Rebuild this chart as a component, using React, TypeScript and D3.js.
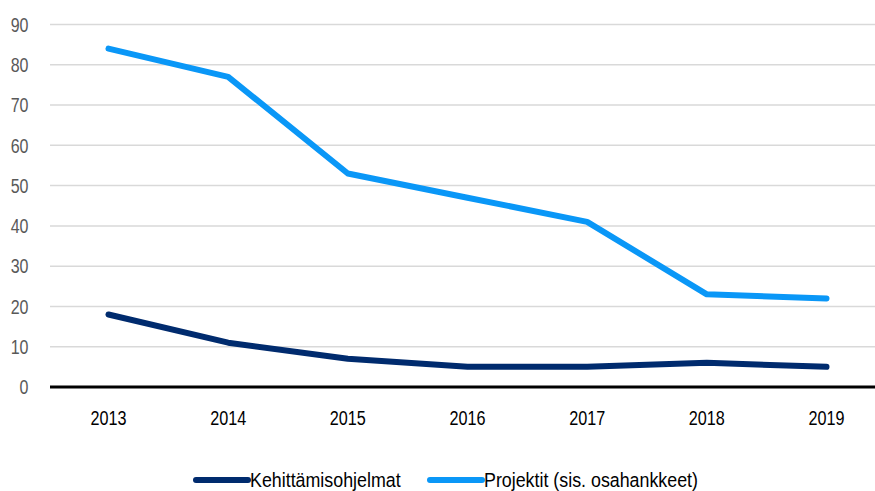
import React from "react";
import * as d3 from "d3";

const years = ["2013", "2014", "2015", "2016", "2017", "2018", "2019"];
const kehittamis = [18, 11, 7, 5, 5, 6, 5];
const projektit = [84, 77, 53, 47, 41, 23, 22];
const yTicks = [0, 10, 20, 30, 40, 50, 60, 70, 80, 90];
const seriesNames = ["Kehittämisohjelmat", "Projektit (sis. osahankkeet)"];
const seriesColors = ["#002b6e", "#0a97f7"];

const W = 875;
const H = 491;
const FONT = "'Liberation Sans', Arial, sans-serif";

function NText(props: {
  x: number;
  y: number;
  sx: number;
  anchor?: "start" | "middle" | "end";
  fill: string;
  size: number;
  children: React.ReactNode;
}) {
  return (
    <text
      transform={`translate(${props.x},${props.y}) scale(${props.sx},1)`}
      dy="0.36em"
      textAnchor={props.anchor || "start"}
      fontSize={props.size}
      fill={props.fill}
    >
      {props.children}
    </text>
  );
}

export default function App() {
  const x = d3.scalePoint<string>().domain(years).range([108.5, 826.5]);
  const y = d3.scaleLinear().domain([0, 90]).range([387, 24.5]);
  const line = d3
    .line<number>()
    .x((_, i) => x(years[i]) as number)
    .y((d) => y(d));
  const series = [kehittamis, projektit];

  return (
    <svg
      width={W}
      height={H}
      style={{ position: "absolute", left: 0, top: 0, background: "#fff" }}
      fontFamily={FONT}
    >
      {yTicks
        .filter((t) => t > 0)
        .map((t) => (
          <line key={t} x1={50} x2={W} y1={y(t)} y2={y(t)} stroke="#d9d9d9" strokeWidth={1.5} />
        ))}
      {yTicks.map((t) => (
        <NText key={t} x={28.5} y={y(t)} sx={0.8} anchor="end" size={20} fill="#595959">
          {t}
        </NText>
      ))}
      {series.map((s, i) => (
        <path
          key={i}
          d={line(s) as string}
          fill="none"
          stroke={seriesColors[i]}
          strokeWidth={6}
          strokeLinecap="round"
          strokeLinejoin="round"
        />
      ))}
      <line x1={50} x2={W} y1={y(0)} y2={y(0)} stroke="#000" strokeWidth={3} />
      {years.map((yr) => (
        <NText key={yr} x={x(yr) as number} y={418} sx={0.79} anchor="middle" size={20.5} fill="#000">
          {yr}
        </NText>
      ))}
      {seriesNames.map((n, i) => {
        const x0 = i === 0 ? 196 : 430;
        return (
          <g key={n}>
            <line x1={x0} x2={x0 + 52} y1={480} y2={480} stroke={seriesColors[i]} strokeWidth={6} strokeLinecap="round" />
            <NText x={x0 + 54} y={480} sx={0.87} size={20.5} fill="#000">
              {n}
            </NText>
          </g>
        );
      })}
    </svg>
  );
}
